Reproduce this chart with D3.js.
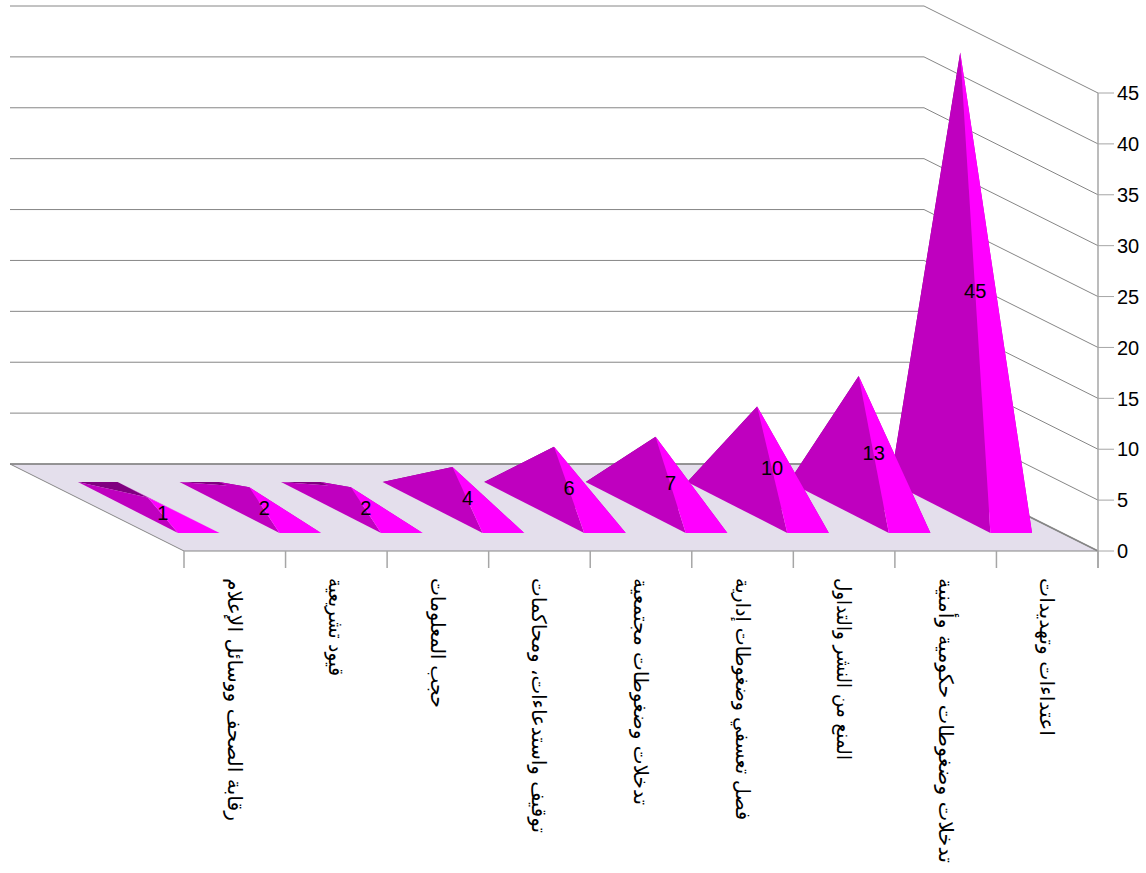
<!DOCTYPE html>
<html lang="ar">
<head>
<meta charset="utf-8">
<title>Pyramid chart</title>
<script src="https://cdn.jsdelivr.net/npm/d3@7"></script>
<style>
  html, body { margin: 0; padding: 0; background: #fff; }
  svg { display: block; }
  text { font-family: "Liberation Sans", Arial, sans-serif; fill: #000; }
  .cat { font-family: "DejaVu Sans", sans-serif; direction: rtl; text-anchor: end; }
</style>
</head>
<body>
<svg id="chart" width="1146" height="873"></svg>
<script>
// Violation categories, ordered from fewest to most cases
const categories = [
  "رقابة الصحف ووسائل الإعلام",
  "قيود تشريعية",
  "حجب المعلومات",
  "توقيف واستدعاءات، ومحاكمات",
  "تدخلات وضغوطات مجتمعية",
  "فصل تعسفي وضغوطات إدارية",
  "المنع من النشر والتداول",
  "تدخلات وضغوطات حكومية وأمنية",
  "اعتداءات وتهديدات"
];
const values = [1, 2, 2, 4, 6, 7, 10, 13, 45];
const yTicks = [0, 5, 10, 15, 20, 25, 30, 35, 40, 45];
const labelLengths = [243, 98, 130, 255, 227, 242, 182, 285, 158];

const svg = d3.select("#chart");

// Front plane scales plus an oblique depth offset for the 3D look
const x = d3.scaleBand().domain(categories).range([184, 1098])
  .paddingInner(0.59).paddingOuter(0.295);
const step = x.step();
const y = d3.scaleLinear().domain([0, 45]).range([551, 93]);
// Pyramid heights run slightly shorter than the wall grid because of foreshortening
const barY = d3.scaleLinear().domain([0, 45]).range([551, 96]);
const depthX = d3.scaleLinear().domain([0, 1]).range([0, -174]);
const depthY = d3.scaleLinear().domain([0, 1]).range([0, -87]);
const project = (px, v, t) => [px + depthX(t), y(v) + depthY(t)];
const projectBar = (px, v, t) => [px + depthX(t), barY(v) + depthY(t)];
const line = d3.line();

const xLeft = 184, xRight = 1098;
const axisGrey = "#a6a6a6", gridGrey = "#868686";

// Floor
svg.append("path")
  .attr("d", line([project(xLeft, 0, 0), project(xRight, 0, 0), project(xRight, 0, 1), project(xLeft, 0, 1)]) + "Z")
  .attr("fill", "#e4dfec")
  .attr("stroke", gridGrey)
  .attr("stroke-width", 1);

// Back wall gridlines, folding down the side wall to the value axis
svg.append("g").selectAll("path")
  .data(yTicks)
  .join("path")
  .attr("d", d => line([project(xLeft, d, 1), project(xRight, d, 1), project(xRight, d, 0)]))
  .attr("fill", "none")
  .attr("stroke", gridGrey)
  .attr("stroke-width", d => d === 0 ? 1.6 : 1);

// Value axis
const yAxis = svg.append("g");
yAxis.append("line")
  .attr("x1", xRight).attr("x2", xRight)
  .attr("y1", y(45)).attr("y2", y(0) + 17)
  .attr("stroke", axisGrey).attr("stroke-width", 1.5);
yAxis.selectAll("line.tick")
  .data(yTicks)
  .join("line")
  .attr("class", "tick")
  .attr("x1", xRight).attr("x2", xRight + 16)
  .attr("y1", d => y(d)).attr("y2", d => y(d))
  .attr("stroke", axisGrey).attr("stroke-width", 1);
yAxis.selectAll("text")
  .data(yTicks)
  .join("text")
  .attr("x", xRight + 19)
  .attr("y", d => y(d))
  .attr("dy", "0.36em")
  .attr("font-size", 20)
  .text(d => d);

// Category ticks under the floor
svg.append("g").selectAll("line")
  .data(d3.range(categories.length + 1))
  .join("line")
  .attr("x1", i => xLeft + i * step).attr("x2", i => xLeft + i * step)
  .attr("y1", y(0)).attr("y2", y(0) + 17)
  .attr("stroke", axisGrey).attr("stroke-width", 1.5);

// Pyramids, painted right to left so nearer-left shapes overlap their neighbours
const t0 = 0.207, t1 = 0.793, backInset = 2;
const rows = categories.map((c, i) => ({ c, v: values[i], i }));
const faces = [
  { name: "back",  color: "#800080", pts: (a, b, c, d, p) => [c, d, p] },
  { name: "right", color: "#bf00bf", pts: (a, b, c, d, p) => [b, d, p] },
  { name: "left",  color: "#bf00bf", pts: (a, b, c, d, p) => [a, c, p] },
  { name: "front", color: "#ff00ff", pts: (a, b, c, d, p) => [a, b, p] }
];
const pyramids = svg.append("g").selectAll("g")
  .data(rows.slice().reverse())
  .join("g");
pyramids.selectAll("path")
  .data(r => {
    const l = x(r.c), w = x.bandwidth();
    const a = projectBar(l, 0, t0), b = projectBar(l + w, 0, t0);
    const c = projectBar(l + backInset, 0, t1), d = projectBar(l + w, 0, t1);
    const p = projectBar(l + w / 2, r.v, 0.5);
    return faces.map(f => ({ color: f.color, pts: f.pts(a, b, c, d, p) }));
  })
  .join("path")
  .attr("d", f => line(f.pts) + "Z")
  .attr("fill", f => f.color);

// Value labels sit halfway up each front face
svg.append("g").selectAll("text")
  .data(rows)
  .join("text")
  .attr("x", r => x(r.c) + x.bandwidth() / 2 + depthX(0.5) + 15)
  .attr("y", r => (barY(r.v) + depthY(0.5) + y(0) + depthY(t0)) / 2 - 2)
  .attr("dy", "0.36em")
  .attr("text-anchor", "middle")
  .attr("font-size", 20)
  .text(r => r.v);

// Rotated category labels hanging below each band
svg.append("g").selectAll("text")
  .data(rows)
  .join("text")
  .attr("class", "cat")
  .attr("transform", r => `translate(${x(r.c) + x.bandwidth() / 2},${y(0) + 27}) rotate(90)`)
  .attr("dominant-baseline", "central")
  .attr("font-size", 20)
  .attr("textLength", r => labelLengths[r.i])
  .attr("lengthAdjust", "spacingAndGlyphs")
  .text(r => r.c);
</script>
</body>
</html>
